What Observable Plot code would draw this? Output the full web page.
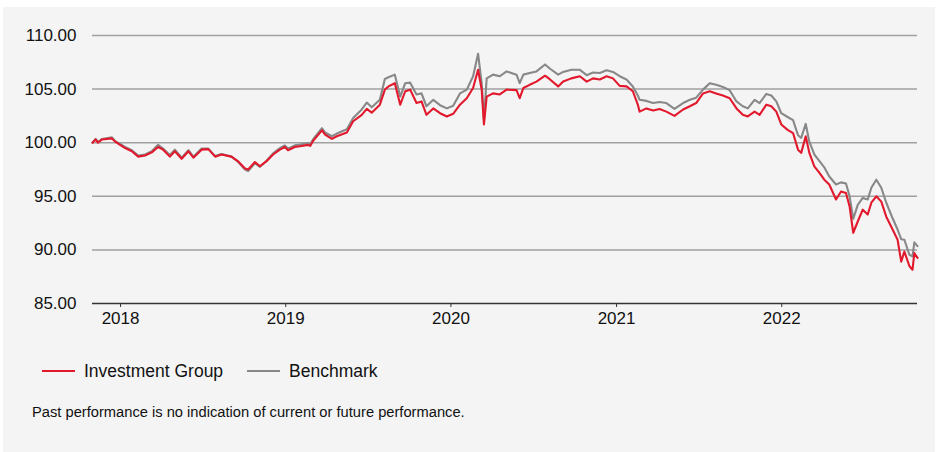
<!DOCTYPE html>
<html>
<head>
<meta charset="utf-8">
<script src="https://cdn.jsdelivr.net/npm/d3@7"></script>
<script src="https://cdn.jsdelivr.net/npm/@observablehq/plot@0.6"></script>
<style>
  html, body { margin: 0; padding: 0; background: #ffffff; }
  body { width: 938px; height: 452px; position: relative; overflow: hidden; font-family: "Liberation Sans", Arial, sans-serif; color: #111; }
  #panel { position: absolute; left: 3px; top: 7px; width: 932px; height: 445px; background: #f4f4f4; }
  #chart { position: absolute; left: 0; top: 0; }
  #legend { position: absolute; left: 39px; top: 354px; height: 20px; display: flex; align-items: center; font-size: 17.5px; }
  .item { display: flex; align-items: center; }
  .swatch { width: 33px; height: 2px; margin-right: 9px; }
  #footer { position: absolute; left: 29px; top: 397px; font-size: 14.7px; line-height: 16px; }
</style>
</head>
<body>
<div id="panel">
  <div id="chart"></div>
  <div id="legend"></div>
  <div id="footer">Past performance is no indication of current or future performance.</div>
</div>
<script>
const seriesNames = ["Investment Group", "Benchmark"];
const seriesColors = ["#e2192c", "#888888"];
const yTicks = [85, 90, 95, 100, 105, 110];

const dates = [
"2017-10-31","2017-11-07","2017-11-12","2017-11-21","2017-12-13","2017-12-20",
"2018-01-11","2018-01-26","2018-02-09","2018-02-24","2018-03-11","2018-03-25","2018-04-05","2018-04-20",
"2018-05-01","2018-05-16","2018-05-31","2018-06-11","2018-06-29","2018-07-14","2018-07-29","2018-08-12",
"2018-09-03","2018-09-18","2018-10-03","2018-10-10","2018-10-25","2018-11-05","2018-11-19","2018-12-04",
"2018-12-19","2018-12-30",
"2019-01-06","2019-01-21","2019-02-05","2019-02-19","2019-02-24","2019-03-03","2019-03-22","2019-03-29",
"2019-04-13","2019-04-24","2019-05-16","2019-05-30","2019-06-18","2019-06-29","2019-07-10","2019-07-28",
"2019-08-08","2019-08-16","2019-08-30","2019-09-11","2019-09-22","2019-10-03","2019-10-17","2019-10-28",
"2019-11-08","2019-11-23","2019-12-08","2019-12-23",
"2020-01-06","2020-01-21","2020-02-05","2020-02-19","2020-03-01","2020-03-09","2020-03-14","2020-03-20",
"2020-04-03","2020-04-18","2020-05-03","2020-05-25","2020-06-01","2020-06-09","2020-06-23","2020-07-08",
"2020-07-27","2020-08-07","2020-08-25","2020-09-05","2020-09-23","2020-10-12","2020-10-27","2020-11-10",
"2020-11-25","2020-12-10","2020-12-24",
"2021-01-08","2021-01-23","2021-02-06","2021-02-17","2021-02-21","2021-03-08","2021-03-23","2021-04-06",
"2021-04-21","2021-05-09","2021-05-28","2021-06-12","2021-06-26","2021-07-11","2021-07-26","2021-08-09",
"2021-08-24","2021-09-08","2021-09-23","2021-10-07","2021-10-18","2021-11-02","2021-11-13","2021-11-28",
"2021-12-09","2021-12-20","2021-12-31",
"2022-01-14","2022-01-26","2022-02-06","2022-02-13","2022-02-23","2022-03-03","2022-03-14","2022-03-25",
"2022-04-05","2022-04-16","2022-05-01","2022-05-12","2022-05-23","2022-05-31","2022-06-08","2022-06-18",
"2022-06-29","2022-07-10","2022-07-18","2022-07-29","2022-08-09","2022-08-20","2022-09-03","2022-09-14",
"2022-09-22","2022-09-29","2022-10-10","2022-10-17","2022-10-21","2022-10-28"
];

const investmentGroup = [
100.0,100.3,100.0,100.3,100.4,100.1,
99.5,99.2,98.7,98.8,99.1,99.6,99.35,98.7,
99.2,98.5,99.2,98.6,99.35,99.4,98.7,98.9,
98.7,98.25,97.6,97.5,98.2,97.8,98.25,98.9,
99.35,99.6,
99.3,99.6,99.7,99.8,99.7,100.2,101.15,100.75,
100.35,100.6,100.95,102.0,102.6,103.15,102.8,103.55,
104.95,105.25,105.55,103.55,104.8,104.95,103.7,103.85,
102.6,103.2,102.75,102.45,
102.7,103.55,104.15,105.1,106.8,104.95,101.7,104.3,
104.6,104.5,104.95,104.9,104.15,105.1,105.4,105.7,
106.25,105.9,105.25,105.7,106.0,106.2,105.7,106.0,
105.9,106.2,106.0,
105.3,105.25,104.8,103.55,102.9,103.2,103.0,103.15,
102.9,102.5,103.1,103.4,103.7,104.6,104.8,104.6,
104.4,104.15,103.2,102.6,102.45,102.9,102.6,103.55,
103.4,102.9,101.7,
101.2,100.9,99.35,99.05,100.6,99.05,97.8,97.2,
96.55,96.1,94.7,95.45,95.3,94.05,91.6,92.65,
93.75,93.3,94.4,95.0,94.5,93.1,91.9,90.95,
88.9,89.85,88.5,88.15,89.7,89.25
];

const benchmark = [
100.0,100.35,100.05,100.35,100.5,100.15,
99.6,99.3,98.8,98.9,99.2,99.8,99.45,98.85,
99.35,98.6,99.3,98.7,99.45,99.45,98.75,98.95,
98.7,98.2,97.5,97.35,98.1,97.75,98.3,99.0,
99.5,99.75,
99.45,99.75,99.85,99.95,99.85,100.35,101.35,100.95,
100.6,100.85,101.25,102.3,103.1,103.75,103.3,104.0,
105.95,106.1,106.35,104.3,105.55,105.6,104.5,104.6,
103.4,104.0,103.5,103.2,
103.45,104.6,104.95,106.2,108.3,105.55,102.15,106.0,
106.35,106.2,106.65,106.35,105.55,106.35,106.5,106.65,
107.3,106.9,106.35,106.6,106.8,106.8,106.3,106.55,
106.5,106.75,106.6,
106.2,105.9,105.25,104.4,104.0,103.9,103.7,103.8,
103.7,103.15,103.7,104.0,104.2,104.95,105.55,105.4,
105.2,104.9,103.85,103.4,103.2,104.0,103.7,104.55,
104.4,103.85,102.75,
102.4,102.1,100.7,100.45,101.75,100.1,98.9,98.3,
97.7,96.85,96.1,96.3,96.2,95.0,92.9,94.2,
94.85,94.7,95.8,96.55,95.8,94.4,92.95,91.9,
91.0,90.95,89.55,89.4,90.7,90.35
];

const rows = dates.map((d, i) => ({date: new Date(d + "T00:00:00Z"), inv: investmentGroup[i], bench: benchmark[i]}));

const fontFamily = '"Liberation Sans", Arial, sans-serif';

const chart = Plot.plot({
  width: 932,
  height: 336,
  marginTop: 28,
  marginBottom: 40,
  marginLeft: 89,
  marginRight: 18,
  style: {background: "transparent", fontFamily, color: "#111", overflow: "visible"},
  x: {type: "utc", domain: [new Date("2017-10-31T00:00:00Z"), new Date("2022-10-28T00:00:00Z")]},
  y: {domain: [85, 110]},
  marks: [
    Plot.ruleY(yTicks.filter(t => t > 85), {stroke: "#a0a0a0", strokeWidth: 1.5}),
    Plot.ruleY([85], {stroke: "#333333", strokeWidth: 1.5}),
    Plot.axisY({ticks: yTicks, tickSize: 0, tickPadding: 16, tickFormat: d3.format(".2f"), fontSize: 17, label: null}),
    Plot.axisX({ticks: d3.utcYear.every(1), tickSize: 4, tickPadding: 4, tickFormat: d3.utcFormat("%Y"), fontSize: 17, label: null, stroke: "#333"}),
    Plot.line(rows, {x: "date", y: "bench", stroke: seriesColors[1], strokeWidth: 2.1}),
    Plot.line(rows, {x: "date", y: "inv", stroke: seriesColors[0], strokeWidth: 2.1})
  ]
});
document.getElementById("chart").appendChild(chart);

const legend = document.getElementById("legend");
seriesNames.forEach((name, i) => {
  const item = document.createElement("div");
  item.className = "item";
  if (i > 0) item.style.marginLeft = "24px";
  const sw = document.createElement("div");
  sw.className = "swatch";
  sw.style.background = seriesColors[i];
  const label = document.createElement("span");
  label.textContent = name;
  item.appendChild(sw);
  item.appendChild(label);
  legend.appendChild(item);
});
</script>
</body>
</html>
